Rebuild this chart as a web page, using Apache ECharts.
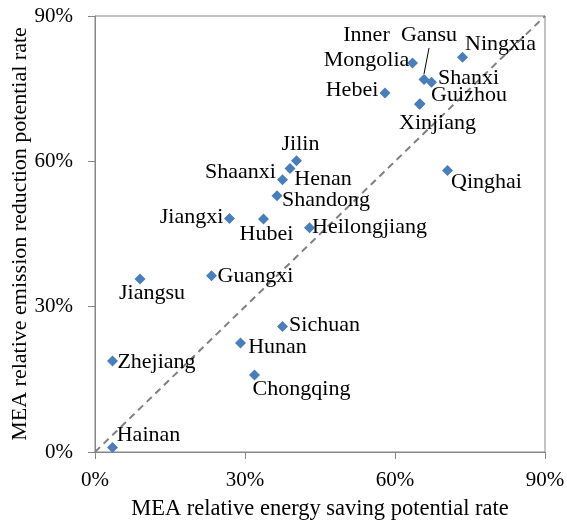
<!DOCTYPE html>
<html>
<head>
<meta charset="utf-8">
<script src="https://cdn.jsdelivr.net/npm/echarts@6/dist/echarts.min.js"></script>
<style>
  html, body { margin: 0; padding: 0; background: #fff; }
  #chart { width: 567px; height: 524px; }
</style>
</head>
<body>
<div id="chart"></div>
<script>
// Provinces and their MEA relative potential rates (%)
const provinces = [
  'Ningxia', 'Inner\nMongolia', 'Gansu', 'Shanxi', 'Hebei', 'Guizhou', 'Xinjiang', 'Qinghai',
  'Jilin', 'Henan', 'Shaanxi', 'Shandong', 'Jiangxi', 'Hubei', 'Heilongjiang',
  'Jiangsu', 'Guangxi', 'Sichuan', 'Hunan', 'Zhejiang', 'Chongqing', 'Hainan'
];
// x: energy saving potential rate
const energySaving = [
  73.5, 63.5, 65.8, 67.3, 58.0, 65.0, 64.9, 70.5,
  40.3, 39.0, 37.5, 36.4, 26.9, 33.7, 42.9,
  9.0, 23.3, 37.5, 29.1, 3.5, 31.9, 3.5
];
// y: emission reduction potential rate
const emissionReduction = [
  81.5, 80.3, 76.9, 76.3, 74.1, 71.9, 71.8, 58.1,
  60.1, 58.5, 56.2, 52.9, 48.2, 48.1, 46.3,
  35.7, 36.4, 25.9, 22.5, 18.8, 15.9, 0.95
];
// Axis ticks (%)
const axisMin = 0, axisMax = 90, axisStep = 30;
// Reference line y = x
const diagonal = [[axisMin, axisMin], [axisMax, axisMax]];

// Where each name sits relative to its marker (pixels)
const labelShift = [
  [38, -13], [-46, -15], [5, -44], [37, -4], [-33, -3], [49, -8], [18, 19], [39, 12],
  [4, -17], [33, 11], [-42, -8], [49, 4], [-38, -1], [3, 15], [60, 0],
  [12, 14], [44, 1], [42, -1], [37, 4], [44, 1], [47, 14], [36, -12]
];

const serif = 'Liberation Serif, Times New Roman, serif';
const axisGray = '#868686';

const points = provinces.map((name, i) => {
  const item = {
    name: name,
    value: [energySaving[i], emissionReduction[i]],
    label: { offset: labelShift[i] }
  };
  if (name === 'Gansu') {
    item.labelLine = { show: true, length2: 0, lineStyle: { color: '#000', width: 1 } };
  }
  return item;
});

const chart = echarts.init(document.getElementById('chart'), null, { renderer: 'canvas' });
chart.setOption({
  animation: false,
  backgroundColor: '#fff',
  grid: {
    left: 95, right: 22, top: 16, bottom: 72,
    containLabel: false,
    outerBoundsMode: 'none',
    show: true, borderColor: axisGray, borderWidth: 1
  },
  xAxis: {
    type: 'value', min: axisMin, max: axisMax, interval: axisStep,
    name: 'MEA relative energy saving potential rate',
    nameLocation: 'middle', nameGap: 46, nameMoveOverlap: false,
    nameTextStyle: { fontFamily: serif, fontSize: 22.5, color: '#000' },
    axisLine: { show: true, lineStyle: { color: axisGray, width: 1 } },
    axisTick: { show: true, inside: false, length: 7, lineStyle: { color: axisGray } },
    axisLabel: { formatter: '{value}%', fontFamily: serif, fontSize: 21, color: '#000', margin: 18 },
    splitLine: { show: false }
  },
  yAxis: {
    type: 'value', min: axisMin, max: axisMax, interval: axisStep,
    name: 'MEA relative emission reduction potential rate',
    nameLocation: 'middle', nameGap: 64, nameRotate: 90, nameMoveOverlap: false,
    nameTextStyle: { fontFamily: serif, fontSize: 22, color: '#000' },
    axisLine: { show: true, lineStyle: { color: axisGray, width: 1 } },
    axisTick: { show: true, inside: false, length: 7, lineStyle: { color: axisGray } },
    axisLabel: { formatter: '{value}%', fontFamily: serif, fontSize: 21, color: '#000', margin: 22 },
    splitLine: { show: false }
  },
  series: [
    {
      type: 'line',
      data: diagonal,
      symbol: 'none',
      silent: true,
      z: 1,
      lineStyle: { color: '#808080', width: 2, type: [7, 5] }
    },
    {
      type: 'scatter',
      data: points,
      symbol: 'diamond',
      symbolSize: 11,
      z: 3,
      itemStyle: { color: '#4a7ebb', opacity: 1 },
      label: {
        show: true,
        position: 'inside',
        formatter: p => p.name,
        fontFamily: serif,
        fontSize: 22,
        lineHeight: 25,
        color: '#000',
        textBorderWidth: 0,
        align: 'center',
        verticalAlign: 'middle'
      },
      emphasis: { disabled: true }
    }
  ]
});
</script>
</body>
</html>
